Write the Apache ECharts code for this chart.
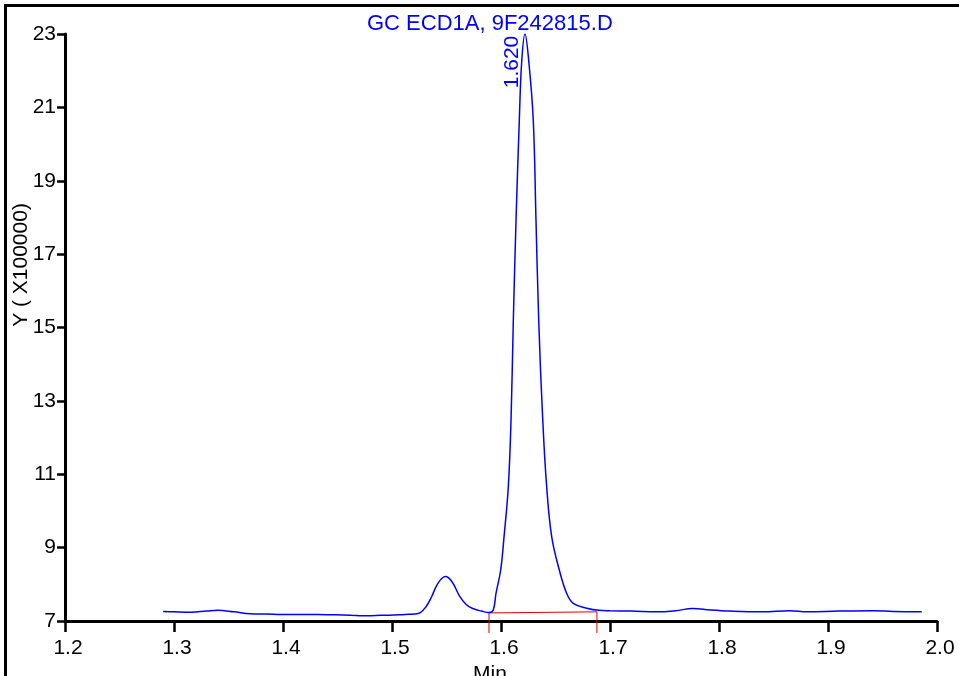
<!DOCTYPE html>
<html>
<head>
<meta charset="utf-8">
<script src="https://cdn.jsdelivr.net/npm/echarts@6/dist/echarts.min.js"></script>
<style>
html,body{margin:0;padding:0;background:#fff;}
#main{width:959px;height:676px;}
</style>
</head>
<body>
<div id="main"></div>
<script>
const titleText = 'GC ECD1A, 9F242815.D';
const yAxisTitle = 'Y ( X100000)';
const xAxisTitle = 'Min';
const peakLabel = '1.620';
const peakTime = 1.622;
const peakValue = 23.0;

const times = [1.290,1.300,1.315,1.330,1.340,1.355,1.370,1.385,1.400,1.420,1.440,1.462,1.473,1.485,1.498,1.512,1.520,1.526,1.531,1.536,1.542,1.549,1.555,1.562,1.568,1.574,1.582,1.589,1.5929,1.5954,1.5997,1.6028,1.6067,1.6092,1.6113,1.6138,1.6168,1.6190,1.6220,1.6255,1.6296,1.6321,1.6346,1.6383,1.6419,1.6465,1.6535,1.6603,1.6663,1.6786,1.690,1.700,1.720,1.743,1.760,1.776,1.792,1.810,1.840,1.865,1.881,1.910,1.941,1.960,1.986];
const signal = [7.26,7.25,7.24,7.27,7.29,7.25,7.20,7.19,7.18,7.18,7.17,7.16,7.14,7.15,7.16,7.18,7.19,7.23,7.38,7.64,8.02,8.21,8.07,7.68,7.45,7.34,7.27,7.23,7.30,7.75,8.39,9.30,10.66,12.48,15.2,17.93,20.65,22.25,23.0,22.25,20.65,17.93,15.2,12.48,10.66,9.30,8.39,7.75,7.48,7.35,7.29,7.28,7.27,7.25,7.28,7.34,7.30,7.27,7.25,7.28,7.25,7.27,7.28,7.26,7.25];

const integTimes = [1.589,1.589,1.688,1.688];
const integValues = [6.67,7.22,7.25,6.67];

const xMin = 1.2, xMax = 2.0, xStep = 0.1;
const yMin = 7, yMax = 23, yStep = 2;

const FONT = '"Liberation Sans", Arial, sans-serif';

const chart = echarts.init(document.getElementById('main'), null, {renderer:'canvas'});
chart.setOption({
  animation:false,
  backgroundColor:'#ffffff',
  title:{
    text:titleText, left:362, top:8,
    textStyle:{color:'#0000ff', fontSize:22, fontWeight:'normal', fontFamily:FONT}
  },
  grid:{left:65, right:22, top:34, bottom:55, containLabel:false, outerBoundsMode:'none'},
  xAxis:{
    type:'value', min:xMin, max:xMax, interval:xStep,
    name:xAxisTitle, nameLocation:'middle', nameGap:40,
    nameTextStyle:{color:'#000', fontSize:21, fontFamily:FONT, padding:[0,22,0,0]},
    axisLine:{show:true, onZero:false, lineStyle:{color:'#000', width:3}},
    axisTick:{show:true, inside:false, length:11, lineStyle:{color:'#000', width:2.5}},
    axisLabel:{color:'#000', fontSize:21, fontFamily:FONT, margin:17, padding:[0,0,0,6],
      formatter:function(v){return v.toFixed(1);}},
    splitLine:{show:false}
  },
  yAxis:{
    type:'value', min:yMin, max:yMax, interval:yStep,
    axisLine:{show:true, onZero:false, lineStyle:{color:'#000', width:3}},
    axisTick:{show:true, inside:false, length:8, lineStyle:{color:'#000', width:2.5}},
    axisLabel:{color:'#000', fontSize:21, fontFamily:FONT, margin:9, padding:[7,0,0,0]},
    splitLine:{show:false}
  },
  graphic:[
    {type:'polyline', shape:{points:[[5.5,676],[5.5,5.5],[959,5.5]]}, style:{stroke:'#000', lineWidth:3, fill:null}, z:100},
    {type:'text', x:21, y:265, rotation:Math.PI/2,
      style:{text:yAxisTitle, fill:'#000', font:'21px ' + FONT, align:'center', verticalAlign:'middle'}}
  ],
  series:[
    {
      type:'line', name:'integration', clip:false, symbol:'none',
      data:integTimes.map((t,i)=>[t, integValues[i]]),
      lineStyle:{color:'#e00000', width:1}, z:3
    },
    {
      type:'line', name:'signal', symbol:'none', smooth:0.4,
      data:times.map((t,i)=>[t, signal[i]]),
      lineStyle:{color:'#0000ff', width:1.5}, z:4,
      markPoint:{
        symbol:'circle', symbolSize:1, itemStyle:{color:'rgba(0,0,0,0)'},
        data:[{coord:[peakTime, peakValue]}],
        label:{show:true, formatter:peakLabel, color:'#0000ff', fontSize:21, fontFamily:FONT,
          rotate:90, position:'inside', offset:[-28,-13]}
      }
    }
  ]
});
</script>
</body>
</html>
